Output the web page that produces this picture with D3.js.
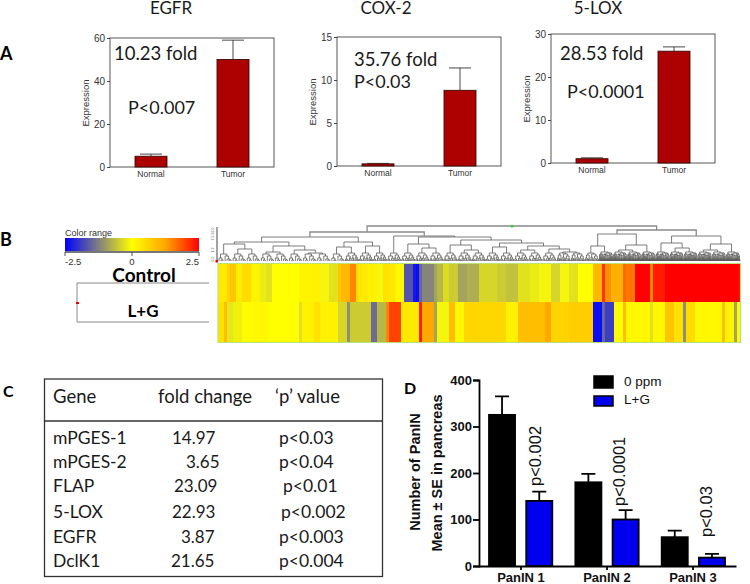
<!DOCTYPE html>
<html>
<head>
<meta charset="utf-8">
<script src="https://cdn.jsdelivr.net/npm/d3@7"></script>
<style>
  body { margin: 0; background: #fff; }
  svg { display: block; }
  .cal { font-family: Lato, "Open Sans", sans-serif; fill: #1a1a1a; }
  .ari { font-family: "Liberation Sans", Arial, sans-serif; }
</style>
</head>
<body>
<svg id="fig" width="750" height="584"></svg>
<script>
// panel A
const groupsA = ["Normal", "Tumor"];
const egfrVals = [5, 50], egfrErr = [6, 59], egfrTicks = [0, 20, 40, 60];
const coxVals = [0.25, 8.8], coxErr = [0.3, 11.4], coxTicks = [0, 5, 10, 15];
const loxVals = [1, 26], loxErr = [1.2, 27], loxTicks = [0, 10, 20, 30];

// panel B, one value per heatmap column
const controlRow = [
  0.3,0.3,0.3,0.6,0.8,0.8,0.25,0.25,0.5,0.5,0.5,0.15,0.15,0.15,-0.2,-0.2,-0.3,-0.3,
  0,0,0,0,0,0,0,0,0,0.15,0.15,0.15,0.15,0.2,0.2,0.2,-0.1,-0.1,-0.1,-0.3,-0.3,-0.3,
  0.8,1,1,1,1.5,1.5,0.5,0.3,0.3,0.3,0.2,0.2,0.2,-0.1,-0.1,0.4,0.4,0.3,0.3,0.1,0.1,0.1,
  -1.7,-1.7,-1.7,-2.3,-2.4,-1.5,-1.2,-1.2,-1.2,-1.2,-0.9,-0.7,-0.7,-0.35,-0.35,
  -0.5,-0.5,-0.5,-0.9,-0.9,-0.9,-0.8,-0.8,-0.8,-0.8,-0.4,-0.4,-0.4,-0.4,-0.4,-0.4,
  -0.5,-0.5,-0.5,-0.6,-0.6,-0.6,-0.6,-0.3,-0.3,-0.3,-0.3,-0.2,-0.2,-0.2,
  -0.1,-0.1,-0.1,-0.1,-0.4,-0.4,-0.4,-0.1,-0.1,-0.1,-0.3,-0.3,-0.3,0,0,0,0,0,
  1,1,1,2.1,1.4,1.4,1.1,1.1,1.1,1.1,1.7,1.6,1.6,1.6,2.5,2.5,2.5,2.5,2.5,1.5,2.3,2.3,2.3,2.3,
  2.5,2.5,2.5,2.5,2.5,2.5,2.5,2.5,2.5,2.5,2.5,2.5,2.5,2.5,2.5,2.5,2.5,2.5,2.5,2.5,2.5,2.5,2.5,2.5,2.5
];
const lgRow = [
  0.4,0.4,0.9,-0.25,-0.25,-0.15,-0.15,-0.15,0.05,0.05,0.05,0.05,0.1,0.1,0.1,0.1,0.1,
  0,0,0,0,0,0,0,0,0,0,-0.3,0.2,0.2,0.2,0.2,0.4,0.4,0.2,0.2,0.2,0.2,0.2,0.2,
  -0.4,-0.4,-0.4,-1.1,-0.5,-0.5,-0.5,-0.5,-0.5,-0.5,-0.5,-1.45,-1.45,-0.7,-0.7,-0.7,1.5,
  2,2,2,2,0.3,0.3,0.3,0.3,0.3,0.3,2.3,1.2,1.2,1.2,1.2,-0.9,-0.1,-0.1,-0.1,-0.1,0.9,0.9,
  0.1,0.1,0.1,0.55,0.55,0.55,0.55,0.55,0.55,0.55,0.55,0.55,0.55,0.55,0.55,0.55,0.55,
  0.2,0.2,0.2,0.2,0.9,0.9,0.9,0.9,0.9,0.9,0.9,0.9,0.9,1.2,1.2,0.6,0.6,0.6,0.6,0.6,0.6,
  0.7,0.7,0.7,0.7,0.7,0.7,0.7,0.7,-2.4,-2.4,-2.4,-1.5,-1.9,-1.9,-1.9,0.05,0.05,0.05,0.9,
  0.1,0.1,0.1,0.1,0.1,0.1,0.1,0.1,-0.3,0.1,0.1,0.1,0.1,0.8,0.8,0.8,0.4,0.4,0.4,-1.1,
  0.5,0.5,0.5,0.1,0.1,0.1,0.1,0.1,0.1,0.1,0.1,0.1,0.9,0.15,0.15,0.15,-0.9,0
];
const colorStops = [-2.5, -1.25, 0, 1.25, 2.5];
const colorRange = ["#0000ff", "#808080", "#ffff00", "#ffa500", "#ff0000"];
const colorTicks = [-2.5, 0, 2.5];

// dendrogram: [height, left, right], numbers at the ends are tuft slots
const tree = [35,
  [29,
    [24,
      [19, [17, 0, [12, 1, 2]], [15, [9, 3, 4], [11, 5, [8, 6, 7]]]],
      [19, [14, 8, 9], [15, 10, 11]]],
    [25, 12,
      [24,
        [17, 13, [13, 14, 15]],
        [21, [16, 16, [11, 17, 18]],
          [18, [14, 19, 20], [15, [11, 21, 22], [12, 23, [9, 24, 25]]]]]]]],
  [31,
    [27, [15, 26, 27], [16, [11, 28, 29], 30]],
    [25, [18, 31, [13, 32, 33]], [17, [11, 34, 35], 36]]]
];
const tuftA = [7, [3, 0, [1, 0, 0]], [5, 0, [2, 0, [1, 0, 0]]]];
const tuftB = [8, [5, [2, 0, [1, 0, 0]], [3, [1, 0, 0], 0]], [6, [3, 0, [1, 0, 0]], [4, 0, [2, 0, [1, 0, 0]]]]];
const tuftC = [8, [6, [3, [1, 0, 0], [2, 0, 0]], [2, 0, [1, 0, 0]]], [7, [4, 0, [2, 0, 0]], [5, [3, [1, 0, 0], 0], [2, [1, 0, 0], [1, 0, 0]]]]];
const tuftD = [9, [7, tuftC[1], tuftC[2]], [8, [6, tuftC[2], tuftC[1]], tuftC]];
const tuftKinds = "AAAAAAAAABBBBBBBBBBBBBBBCCCDDDDDDDDDD";
const dendroTicks = ["56.0", "7.5", "1.2", "0.0"];

// panel C
const tableHead = ["Gene", "fold change", "\u2018p\u2019 value"];
const genes = ["mPGES-1", "mPGES-2", "FLAP", "5-LOX", "EGFR", "DclK1"];
const folds = ["14.97", "3.65", "23.09", "22.93", "3.87", "21.65"];
const pvals = ["p<0.03", "p<0.04", "p<0.01", "p<0.002", "p<0.003", "p<0.004"];

// panel D
const panin = ["PanIN 1", "PanIN 2", "PanIN 3"];
const seriesD = ["0 ppm", "L+G"];
const ctrlVals = [325, 180, 62], ctrlErr = [365, 198, 76];
const lgVals = [140, 100, 18], lgErr = [160, 120, 26];
const pLabels = ["p<0.002", "p<0.0001", "p<0.03"];
const ticksD = [0, 100, 200, 300, 400];

const svg = d3.select("#fig");
svg.append("rect").attr("width", 750).attr("height", 584).attr("fill", "#fff");

function label(x, y, str, size, cls, weight) {
  return svg.append("text").attr("class", cls).attr("x", x).attr("y", y)
    .attr("font-size", size).attr("font-weight", weight || "normal").text(str);
}

// ---- panel A
function barChart(cfg) {
  const x = d3.scaleBand().domain(groupsA).range([cfg.left, cfg.left + 164])
    .paddingInner(0.61).paddingOuter(0.305);
  const y = d3.scaleLinear().domain([0, cfg.ticks[3]]).range([cfg.bottom, cfg.bottom - 129]);
  const g = svg.append("g");

  g.append("rect").attr("x", cfg.left).attr("y", cfg.bottom - 129)
    .attr("width", 164).attr("height", 129)
    .attr("fill", "none").attr("stroke", "#444").attr("stroke-width", 0.9);

  groupsA.forEach((d, i) => {
    const cx = x(d) + x.bandwidth() / 2;
    g.append("path")
      .attr("d", `M${cx},${y(cfg.vals[i])}V${y(cfg.err[i])}M${cx - 11},${y(cfg.err[i])}H${cx + 11}`)
      .attr("fill", "none").attr("stroke", "#333").attr("stroke-width", 0.9);
    g.append("rect").attr("x", x(d)).attr("y", y(cfg.vals[i]))
      .attr("width", x.bandwidth()).attr("height", cfg.bottom - y(cfg.vals[i]))
      .attr("fill", "#ad0000").attr("stroke", "#3a0a0a").attr("stroke-width", 0.9);
  });

  const ax = g.append("g").attr("transform", `translate(${cfg.left},0)`)
    .call(d3.axisLeft(y).tickValues(cfg.ticks).tickSize(3).tickPadding(2));
  ax.select(".domain").remove();
  ax.selectAll("text").attr("font-family", "Liberation Sans").attr("font-size", 10).attr("fill", "#333");
  ax.selectAll("line").attr("stroke", "#444");

  const bx = g.append("g").attr("transform", `translate(0,${cfg.bottom})`)
    .call(d3.axisBottom(x).tickSize(0).tickPadding(4));
  bx.select(".domain").remove();
  bx.selectAll("text").attr("font-family", "Liberation Sans").attr("font-size", 8.5).attr("fill", "#333");

  g.append("text").attr("class", "ari").attr("font-size", 9.5).attr("fill", "#333")
    .attr("text-anchor", "middle")
    .attr("transform", `translate(${cfg.left - 21},${cfg.bottom - 64}) rotate(-90)`)
    .text("Expression");

  label(cfg.titleX, cfg.titleY, cfg.title, 17, "cal").attr("text-anchor", "middle");
  label(cfg.foldX, cfg.foldY, cfg.fold, 18.5, "cal");
  label(cfg.pX, cfg.pY, cfg.p, 18, "cal");
}

barChart({ title: "EGFR", titleX: 171, titleY: 14, left: 110, bottom: 167, vals: egfrVals, err: egfrErr, ticks: egfrTicks,
  fold: "10.23 fold", foldX: 114, foldY: 60, p: "P<0.007", pX: 128, pY: 114 });
barChart({ title: "COX-2", titleX: 386, titleY: 14, left: 337, bottom: 166, vals: coxVals, err: coxErr, ticks: coxTicks,
  fold: "35.76 fold", foldX: 354, foldY: 66, p: "P<0.03", pX: 354, pY: 88 });
barChart({ title: "5-LOX", titleX: 598, titleY: 14, left: 551, bottom: 163, vals: loxVals, err: loxErr, ticks: loxTicks,
  fold: "28.53 fold", foldX: 560, foldY: 60, p: "P<0.0001", pX: 567, pY: 98 });

label(0, 60, "A", 18, "cal", "bold").style("fill", "#000");
label(0, 246, "B", 18, "cal", "bold").style("fill", "#000");
label(3, 397, "C", 16, "cal", "bold").style("fill", "#000");
label(404, 394, "D", 16, "cal", "bold").style("fill", "#000");

// ---- panel B
const heatColor = d3.scaleLinear().domain(colorStops).range(colorRange);
const defs = svg.append("defs");
const grad = defs.append("linearGradient").attr("id", "range");
colorStops.forEach((s, i) => {
  grad.append("stop").attr("offset", (s + 2.5) / 5).attr("stop-color", colorRange[i]);
});
defs.append("filter").attr("id", "soft").append("feGaussianBlur").attr("stdDeviation", 0.5);

const legendX = d3.scaleLinear().domain([-2.5, 2.5]).range([65, 199]);
label(65, 236, "Color range", 9, "ari").attr("fill", "#333");
svg.append("rect").attr("x", 65).attr("y", 238).attr("width", 134).attr("height", 13).attr("fill", "url(#range)");
svg.append("rect").attr("x", 65).attr("y", 251).attr("width", 134).attr("height", 2).attr("fill", "#777");
colorTicks.forEach(t => {
  svg.append("line").attr("x1", legendX(t)).attr("x2", legendX(t)).attr("y1", 252).attr("y2", 256).attr("stroke", "#555");
  svg.append("text").attr("class", "ari").attr("font-size", 9.5).attr("fill", "#333")
    .attr("text-anchor", t < 0 ? "start" : t > 0 ? "end" : "middle")
    .attr("x", legendX(t)).attr("y", 265).text(t);
});
svg.append("path").attr("d", "M209,283H77V322H209").attr("fill", "none").attr("stroke", "#888");
svg.append("rect").attr("x", 76).attr("y", 302).attr("width", 3).attr("height", 2).attr("fill", "#e00");
label(144, 282, "Control", 19, "cal", "bold").attr("text-anchor", "middle").style("fill", "#000");
label(143, 317, "L+G", 17, "cal", "bold").attr("text-anchor", "middle").style("fill", "#000");

const colX = d3.scaleBand().domain(d3.range(controlRow.length)).range([218, 740]);
const heat = svg.append("g").attr("filter", "url(#soft)");
[[controlRow, 264, 38], [lgRow, 302, 40]].forEach(([row, top, h]) => {
  heat.append("g").selectAll("rect").data(row).join("rect")
    .attr("x", (d, i) => colX(i)).attr("y", top)
    .attr("width", colX.bandwidth() + 0.5).attr("height", h)
    .attr("fill", d => heatColor(d));
});
svg.append("path").attr("d", "M218,342.5H740.5V263.5H218Z").attr("fill", "none")
  .attr("stroke", "#b9e27a").attr("stroke-width", 1.2);

// dendrogram, tufts share equal slots along the heatmap width
const tuftX = d3.scaleBand().domain(d3.range(tuftKinds.length)).range([218, 740]);
const tuftShape = { A: tuftA, B: tuftB, C: tuftC, D: tuftD };
const dendroY = d3.scaleLinear().domain([0, 36]).range([261, 225]);
const dendro = svg.append("g").attr("fill", "none").attr("stroke", "#5c5c5c").attr("stroke-width", 0.8);

function countLeaves(n) { return Array.isArray(n) ? countLeaves(n[1]) + countLeaves(n[2]) : 1; }

function drawTuft(node, x0, w) {
  if (!Array.isArray(node)) return { x: x0 + w / 2, h: 0 };
  const n1 = countLeaves(node[1]), n2 = countLeaves(node[2]);
  const w1 = w * n1 / (n1 + n2);
  const a = drawTuft(node[1], x0, w1), b = drawTuft(node[2], x0 + w1, w - w1);
  elbow(a, b, node[0]);
  return { x: (a.x + b.x) / 2, h: node[0] };
}
function elbow(a, b, h) {
  dendro.append("path").attr("d",
    `M${a.x},${dendroY(a.h)}V${dendroY(h)}H${b.x}V${dendroY(b.h)}`)
    .attr("stroke", h >= 28 ? "#8a8a8a" : null)
    .attr("stroke-width", h >= 28 ? 1.3 : null);
}
function drawTree(node) {
  if (!Array.isArray(node)) return drawTuft(tuftShape[tuftKinds[node]], tuftX(node), tuftX.bandwidth());
  const a = drawTree(node[1]), b = drawTree(node[2]);
  elbow(a, b, node[0]);
  return { x: (a.x + b.x) / 2, h: node[0] };
}
const rootPos = drawTree(tree);
svg.append("rect").attr("x", rootPos.x - 1).attr("y", dendroY(35) - 1).attr("width", 2.5).attr("height", 2.5).attr("fill", "#2dd12d");

svg.append("path").attr("d", "M217,227V262").attr("stroke", "#444").attr("fill", "none");
svg.append("rect").attr("x", 215.5).attr("y", 260).attr("width", 2.5).attr("height", 2.5).attr("fill", "#e00");
dendroTicks.forEach((t, i) => {
  svg.append("text").attr("class", "ari").attr("font-size", 3.5).attr("fill", "#555")
    .attr("text-anchor", "middle")
    .attr("transform", `translate(214,${[231, 238, 250, 259][i]}) rotate(-90)`).text(t);
});

// ---- panel C
svg.append("rect").attr("x", 44.5).attr("y", 379).attr("width", 338).attr("height", 197.5)
  .attr("fill", "none").attr("stroke", "#333").attr("stroke-width", 1.3);
svg.append("line").attr("x1", 44).attr("x2", 382).attr("y1", 421).attr("y2", 421).attr("stroke", "#333").attr("stroke-width", 1.3);
const rowY = [444, 468, 492, 518, 543, 567];
const foldX = [172, 186, 174, 172, 181, 171];
const pvalX = [279, 279, 283, 281, 279, 279];
[53, 158, 275].forEach((x, i) => label(x, 403, tableHead[i], 18.5, "cal"));
genes.forEach((g, i) => {
  label(53, rowY[i], g, 17.5, "cal");
  label(foldX[i], rowY[i], folds[i], 17, "cal");
  label(pvalX[i], rowY[i], pvals[i], 17.5, "cal");
});

// ---- panel D
const x0 = d3.scaleBand().domain(panin).range([489, 725]).paddingInner(0.267);
const x1 = d3.scaleBand().domain(seriesD).range([0, x0.bandwidth()]).paddingInner(0.3);
const yD = d3.scaleLinear().domain([0, 400]).range([566, 380]);
const fillsD = ["#000000", "#0000ee"];

panin.forEach((p, i) => {
  [[ctrlVals, ctrlErr], [lgVals, lgErr]].forEach(([vals, errs], k) => {
    const bx = x0(p) + x1(seriesD[k]);
    const cx = bx + x1.bandwidth() / 2;
    svg.append("path")
      .attr("d", `M${cx},${yD(vals[i])}V${yD(errs[i])}M${cx - 7},${yD(errs[i])}H${cx + 7}`)
      .attr("fill", "none").attr("stroke", "#000").attr("stroke-width", 1.8);
    svg.append("rect").attr("x", bx).attr("y", yD(vals[i]))
      .attr("width", x1.bandwidth()).attr("height", 566 - yD(vals[i]))
      .attr("fill", fillsD[k]).attr("stroke", "#000").attr("stroke-width", 1.8);
  });
  svg.append("text").attr("class", "ari").attr("font-size", 16.5).attr("fill", "#111")
    .attr("transform", `translate(${[541, 625, 712][i]},${[486, 506, 537][i]}) rotate(-90)`)
    .text(pLabels[i]);
});

const axisLeftD = svg.append("g").attr("transform", "translate(479,0)")
  .call(d3.axisLeft(yD).tickValues(ticksD).tickSize(6).tickPadding(1));
axisLeftD.selectAll("text").attr("font-family", "Liberation Sans").attr("font-size", 13).attr("font-weight", "bold").attr("fill", "#111");
axisLeftD.selectAll("line, .domain").attr("stroke", "#000").attr("stroke-width", 1.8);

const axisBottomD = svg.append("g").attr("transform", "translate(0,566)")
  .call(d3.axisBottom(d3.scaleBand().domain(panin).range([478, 736])).tickSize(4).tickPadding(3).tickSizeOuter(0));
axisBottomD.selectAll("text").attr("font-family", "Liberation Sans").attr("font-size", 13).attr("font-weight", "bold").attr("fill", "#111");
axisBottomD.selectAll("line, .domain").attr("stroke", "#000").attr("stroke-width", 1.8);

[["Number of PanIN", 420, 472], ["Mean \u00b1 SE in pancreas", 442, 473]].forEach(([t, x, y]) => {
  svg.append("text").attr("class", "ari").attr("font-size", 14.5).attr("font-weight", "bold").attr("fill", "#111")
    .attr("text-anchor", "middle")
    .attr("transform", `translate(${x},${y}) rotate(-90)`).text(t);
});

seriesD.forEach((s, i) => {
  svg.append("rect").attr("x", 594).attr("y", [376, 396][i]).attr("width", 19).attr("height", [12, 10][i])
    .attr("fill", fillsD[i]).attr("stroke", "#000").attr("stroke-width", 1.5);
  label(624, [386, 404][i], s, 13.5, "ari").attr("fill", "#111");
});
</script>
</body>
</html>
